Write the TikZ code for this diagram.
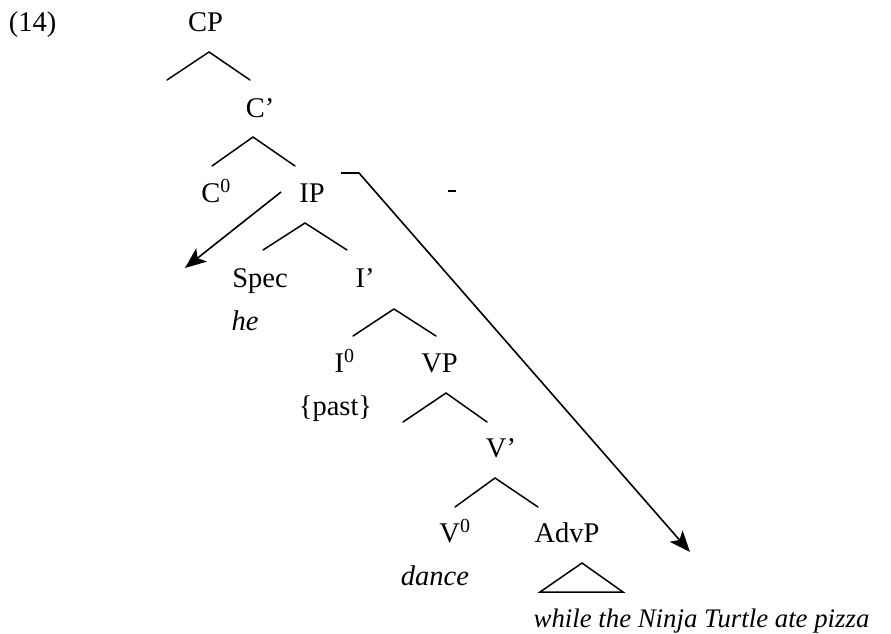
\documentclass[tikz,border=0pt]{standalone}
\usepackage{fontspec}
\setmainfont{Liberation Serif}
\usetikzlibrary{arrows.meta}
\begin{document}
\begin{tikzpicture}[x=1pt,y=-1pt,
  lbl/.style={anchor=base,inner sep=0pt,font=\fontsize{28.5}{34}\selectfont},
  itl/.style={lbl,font=\fontsize{28.5}{34}\selectfont\itshape},
  branch/.style={line width=1.5pt,line cap=round},
  mover/.style={line width=1.6pt,-{Stealth[length=21pt,width=17pt,inset=5pt]}}]
\useasboundingbox (0,0) rectangle (891,634);
% labels
\node[lbl] (ex) at (32.5,32) {(14)};
\node[lbl] (cp) at (205.5,32) {CP};
\node[lbl] (cbar) at (260,117) {C’};
\node[lbl] (c0) at (216,202) {C\textsuperscript{0}};
\node[lbl] (ip) at (312,202) {IP};
\node[lbl] (spec) at (260,287) {Spec};
\node[lbl] (ibar) at (365,287) {I’};
\node[itl] (he) at (245,330) {he};
\node[lbl] (i0) at (344.5,372) {I\textsuperscript{0}};
\node[lbl] (vp) at (439.5,372) {VP};
\node[lbl] (past) at (335.5,415) {\{past\}};
\node[lbl] (vbar) at (501,457) {V’};
\node[lbl] (v0) at (455,542) {V\textsuperscript{0}};
\node[lbl] (advp) at (567,542) {AdvP};
\node[itl] (dance) at (435,585) {dance};
\node[itl,font=\fontsize{26.8}{32}\selectfont\itshape] (sent) at (701.5,627) {while the Ninja Turtle ate pizza};
% branch points
\coordinate (cpT) at (209,52);  \coordinate (cpL) at (167,80);  \coordinate (cpR) at (250,80);
\coordinate (cbT) at (253,137); \coordinate (cbL) at (212,166); \coordinate (cbR) at (295,166);
\coordinate (ipT) at (305,223); \coordinate (ipL) at (263,250); \coordinate (ipR) at (347,250);
\coordinate (ibT) at (394,309); \coordinate (ibL) at (353,336); \coordinate (ibR) at (436,336);
\coordinate (vpT) at (446,393); \coordinate (vpL) at (403,422); \coordinate (vpR) at (487,422);
\coordinate (vbT) at (495,478); \coordinate (vbL) at (455,507); \coordinate (vbR) at (538,507);
\coordinate (trT) at (582,563); \coordinate (trL) at (540,592); \coordinate (trR) at (623,592);
\draw[branch] (cpL) -- (cpT) -- (cpR);
\draw[branch] (cbL) -- (cbT) -- (cbR);
\draw[branch] (ipL) -- (ipT) -- (ipR);
\draw[branch] (ibL) -- (ibT) -- (ibR);
\draw[branch] (vpL) -- (vpT) -- (vpR);
\draw[branch] (vbL) -- (vbT) -- (vbR);
\draw[branch,line join=miter] (trL) -- (trT) -- (trR) -- cycle;
% movement arrows
\coordinate (a1s) at (281,192); \coordinate (a1e) at (185,268);
\draw[mover] (a1s) -- (a1e);
\coordinate (a2s) at (341,173); \coordinate (a2k) at (359,173); \coordinate (a2e) at (690,552);
\draw[mover] (a2s) -- (a2k) -- (a2e);
% stray dash
\coordinate (d1) at (448,191); \coordinate (d2) at (456,191);
\draw[line width=2.4pt] (d1) -- (d2);
\end{tikzpicture}
\end{document}
